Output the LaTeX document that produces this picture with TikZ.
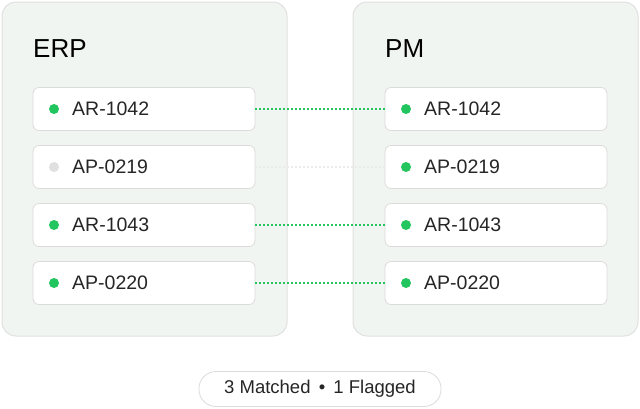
\documentclass[tikz,border=0pt]{standalone}
\usepackage{fontspec}
\setmainfont{Liberation Sans}
\begin{document}
\begin{tikzpicture}[x=1pt,y=-1pt,
  panel/.style={draw=black!12,fill={rgb,255:red,241;green,245;blue,241},rounded corners=14pt,line width=1pt},
  row/.style={draw=black!14,fill=white,rounded corners=6pt,line width=0.8pt,minimum width=222pt,minimum height=43pt,inner sep=0pt},
  lbl/.style={font=\fontsize{19.5}{22}\selectfont,text=black!85,anchor=west,inner sep=0pt},
  gdot/.style={circle,fill={rgb,255:red,34;green,197;blue,94},minimum size=10pt,inner sep=0pt},
  edot/.style={circle,fill=black!12,minimum size=10pt,inner sep=0pt},
  link/.style={dash pattern=on 2pt off 2pt,line width=1.2pt,draw={rgb,255:red,34;green,197;blue,94}},
  flink/.style={dash pattern=on 2pt off 2pt,line width=1.2pt,draw=black!8}]
\useasboundingbox (0,0) rectangle (640,408);
\node[panel,minimum width=285pt,minimum height=334pt] (L) at (144.5,169) {};
\node[panel,minimum width=285pt,minimum height=334pt] (R) at (495.5,169) {};
\node[font=\fontsize{26}{30}\selectfont,anchor=west,inner sep=0pt] (lt) at (33,49) {ERP};
\node[font=\fontsize{26}{30}\selectfont,anchor=west,inner sep=0pt] (rt) at (385,49) {PM};
\foreach \i/\t/\d in {1/AR-1042/gdot,2/AP-0219/edot,3/AR-1043/gdot,4/AP-0220/gdot}{
  \pgfmathsetmacro{\yy}{109+58*(\i-1)}
  \node[row] (l\i) at (144,\yy) {};
  \node[row] (r\i) at (496,\yy) {};
  \node[\d] (ld\i) at (54,\yy) {};
  \node[gdot] (rd\i) at (406,\yy) {};
  \node[lbl] (lt\i) at (72,\yy) {\t};
  \node[lbl] (rt\i) at (424,\yy) {\t};
}
\draw[link] (l1.east) -- (r1.west);
\draw[flink] (l2.east) -- (r2.west);
\draw[link] (l3.east) -- (r3.west);
\draw[link] (l4.east) -- (r4.west);
\node[draw=black!14,fill=white,rounded corners=17pt,line width=0.8pt,minimum width=242pt,minimum height=35pt,font=\fontsize{18.5}{21}\selectfont,text=black!85] (pill) at (320,389) {3 Matched \,•\, 1 Flagged};
\end{tikzpicture}
\end{document}
